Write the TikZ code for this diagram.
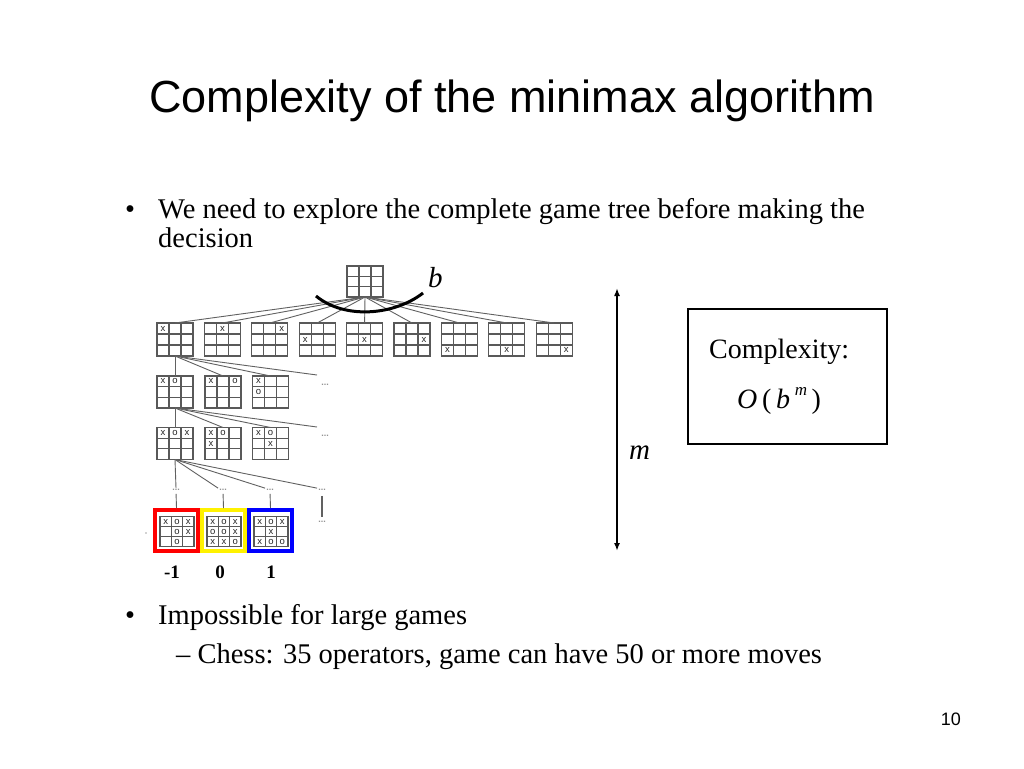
\documentclass[tikz,border=0pt]{standalone}
\usepackage{fontspec}
\setmainfont{Liberation Serif}
\newfontfamily\arialf{Liberation Sans}
\usetikzlibrary{arrows.meta,calc}
\definecolor{bgray}{gray}{0.35}
\definecolor{tgray}{gray}{0.38}
\newcommand\cellw{12}
\newcommand\cellh{10.6}
\newcommand\grd[1]{%
  \draw[gline] ($(#1.north west)!0.3333!(#1.north east)$) -- ($(#1.south west)!0.3333!(#1.south east)$);
  \draw[gline] ($(#1.north west)!0.6667!(#1.north east)$) -- ($(#1.south west)!0.6667!(#1.south east)$);
  \draw[gline] ($(#1.north west)!0.3333!(#1.south west)$) -- ($(#1.north east)!0.3333!(#1.south east)$);
  \draw[gline] ($(#1.north west)!0.6667!(#1.south west)$) -- ($(#1.north east)!0.6667!(#1.south east)$);}
\newcommand\mk[4]{\node[tttmark] at ($(#1.center)+({(#3-2)*\cellw},{(#2-2)*\cellh})$) {#4};}
\tikzset{
  tboard/.style={draw=bgray, line width=1.1pt, fill=white, minimum width=36pt, minimum height=32pt, inner sep=0pt, outer sep=0pt},
  lboard/.style={tboard, minimum width=34pt, minimum height=30pt},
  gline/.style={draw=bgray, line width=1.1pt},
  tline/.style={draw=tgray, line width=0.9pt},
  tttmark/.style={font=\arialf\fontsize{9.5}{9.5}\selectfont, text=black!85, inner sep=0pt},
  dotsn/.style={font=\arialf\bfseries\fontsize{9}{9}\selectfont, text=gray!85, inner sep=1pt},
  btxt/.style={font=\fontsize{28.5}{34}\selectfont, inner sep=0pt},
  leafframe/.style={line width=4pt, fill=white, minimum width=43pt, minimum height=41pt, inner sep=0pt},
  vallab/.style={font=\bfseries\fontsize{19}{22}\selectfont, inner sep=0pt, anchor=base},
  dblarrow/.style={line width=1.6pt, {Latex[length=8pt,width=6pt]}-{Latex[length=8pt,width=6pt]}}
}
\begin{document}
\begin{tikzpicture}[x=1pt,y=-1pt]
\useasboundingbox (0,0) rectangle (1024,768);
\fill[white] (0,0) rectangle (1024,768);

% title
\node[anchor=base, inner sep=0pt, font=\arialf\fontsize{45}{50}\selectfont] (title) at (512,112.5) {Complexity of the minimax algorithm};

% bullets
\node[btxt, anchor=base] (bul1) at (130,218) {•};
\node[btxt, anchor=base west] (t1) at (158,218) {We need to explore the complete game tree before making the};
\node[btxt, anchor=base west] (t1b) at (158,247) {decision};
\node[btxt, anchor=base] (bul2) at (130,624) {•};
\node[btxt, anchor=base west] (t2) at (158,624) {Impossible for large games};
\node[btxt, anchor=base west] (t3) at (176,663) {– Chess: 35 operators, game can have 50 or more moves};

% root
\node[tboard, minimum height=31pt] (root) at (365,281.5) {};
\grd{root}

% level 1
\foreach \i in {1,...,9}{
  \pgfmathsetmacro\xx{175+47.4*(\i-1)}
  \node[tboard, minimum height=33pt] (L1\i) at (\xx,339.5) {};
  \draw[tline] (root.south) -- (L1\i.north);
}
\foreach \i in {1,...,9}{ \grd{L1\i} }
\mk{L11}{1}{1}{x}\mk{L12}{1}{2}{x}\mk{L13}{1}{3}{x}
\mk{L14}{2}{1}{x}\mk{L15}{2}{2}{x}\mk{L16}{2}{3}{x}
\mk{L17}{3}{1}{x}\mk{L18}{3}{2}{x}\mk{L19}{3}{3}{x}

% arc b
\draw[line width=3pt] (316,296) .. controls (345,320) and (395,315) .. (423,293);
\node[anchor=base west, inner sep=0pt, font=\itshape\fontsize{29}{30}\selectfont] (blab) at (428,287) {b};

% level 2
\node[tboard] (L2a) at (175,392) {};
\node[tboard] (L2b) at (223,392) {};
\node[tboard] (L2c) at (270.5,392) {};
\node[dotsn] (d2) at (325,385) {...};
\coordinate (c2) at (317,375);
\draw[tline] (L11.south) -- (L2a.north);
\draw[tline] (L11.south) -- (L2b.north);
\draw[tline] (L11.south) -- (L2c.north);
\draw[tline] (L11.south) -- (c2);
\grd{L2a}\grd{L2b}\grd{L2c}
\mk{L2a}{1}{1}{x}\mk{L2a}{1}{2}{o}
\mk{L2b}{1}{1}{x}\mk{L2b}{1}{3}{o}
\mk{L2c}{1}{1}{x}\mk{L2c}{2}{1}{o}

% level 3
\node[tboard] (L3a) at (175,443.5) {};
\node[tboard] (L3b) at (223,443.5) {};
\node[tboard] (L3c) at (270.5,443.5) {};
\node[dotsn] (d3) at (325,436) {...};
\coordinate (c3) at (317,427);
\draw[tline] (L2a.south) -- (L3a.north);
\draw[tline] (L2a.south) -- (L3b.north);
\draw[tline] (L2a.south) -- (L3c.north);
\draw[tline] (L2a.south) -- (c3);
\grd{L3a}\grd{L3b}\grd{L3c}
\mk{L3a}{1}{1}{x}\mk{L3a}{1}{2}{o}\mk{L3a}{1}{3}{x}
\mk{L3b}{1}{1}{x}\mk{L3b}{1}{2}{o}\mk{L3b}{2}{1}{x}
\mk{L3c}{1}{1}{x}\mk{L3c}{1}{2}{o}\mk{L3c}{2}{2}{x}

% level 4 dots
\node[dotsn] (d4a) at (176,490) {...};
\node[dotsn] (d4b) at (223,490) {...};
\node[dotsn] (d4c) at (270,490) {...};
\node[dotsn] (d4d) at (322,490) {...};
\node[dotsn] (d4e) at (322,522) {...};
\draw[tline] (L3a.south) -- (d4a.north);
\draw[tline] (L3a.south) -- (d4b.north west);
\draw[tline] (L3a.south) -- (d4c.north west);
\draw[tline] (L3a.south) -- (d4d.north west);
\draw[tline, line width=1.2pt, shorten <=4pt, shorten >=3pt] (d4d.south) -- (d4e.north);

% leaves
\node[leafframe, draw=red] (lf1) at (176.5,530.5) {};
\node[leafframe, draw=yellow] (lf2) at (223.5,530.5) {};
\node[leafframe, draw=blue] (lf3) at (270.5,530.5) {};
\draw[tline, shorten <=2pt] (d4a.south) -- (lf1.north);
\draw[tline, shorten <=2pt] (d4b.south) -- (lf2.north);
\draw[tline, shorten <=2pt] (d4c.south) -- (lf3.north);
\node[lboard] (La) at (177,531.5) {};
\node[lboard] (Lb) at (224,531.5) {};
\node[lboard] (Lc) at (271,531.5) {};
\grd{La}\grd{Lb}\grd{Lc}
\renewcommand\cellw{11.3}
\renewcommand\cellh{10}
\mk{La}{1}{1}{x}\mk{La}{1}{2}{o}\mk{La}{1}{3}{x}
\mk{La}{2}{2}{o}\mk{La}{2}{3}{x}
\mk{La}{3}{2}{o}
\mk{Lb}{1}{1}{x}\mk{Lb}{1}{2}{o}\mk{Lb}{1}{3}{x}
\mk{Lb}{2}{1}{o}\mk{Lb}{2}{2}{o}\mk{Lb}{2}{3}{x}
\mk{Lb}{3}{1}{x}\mk{Lb}{3}{2}{x}\mk{Lb}{3}{3}{o}
\mk{Lc}{1}{1}{x}\mk{Lc}{1}{2}{o}\mk{Lc}{1}{3}{x}
\mk{Lc}{2}{2}{x}
\mk{Lc}{3}{1}{x}\mk{Lc}{3}{2}{o}\mk{Lc}{3}{3}{o}
\fill[gray!70] (146,533) circle (0.8);

\node[vallab] (v1) at (172,578) {-1};
\node[vallab] (v2) at (220,578) {0};
\node[vallab] (v3) at (271,578) {1};

% depth arrow
\coordinate (atop) at (617,288);
\coordinate (abot) at (617,551);
\draw[dblarrow] (atop) -- (abot);
\node[anchor=base west, inner sep=0pt, font=\itshape\fontsize{29}{30}\selectfont] (mlab) at (629,459) {m};

% complexity box
\node[draw, line width=2.5pt, minimum width=199pt, minimum height=135pt, inner sep=0pt] (cbox) at (787.5,376.5) {};
\node[anchor=base west, inner sep=0pt, font=\fontsize{28}{30}\selectfont] (ctext) at (709,358) {Complexity:};
\node[anchor=base west, inner sep=0pt, font=\fontsize{28}{30}\selectfont] (cform) at (737,408) {\textit{O}\,(\,\textit{b}\,\raisebox{0.45em}{\fontsize{17}{17}\selectfont\itshape m}\,)};

% page number
\node[anchor=base east, inner sep=0pt, font=\arialf\fontsize{18}{20}\selectfont] (pnum) at (961,725) {10};
\end{tikzpicture}
\end{document}
